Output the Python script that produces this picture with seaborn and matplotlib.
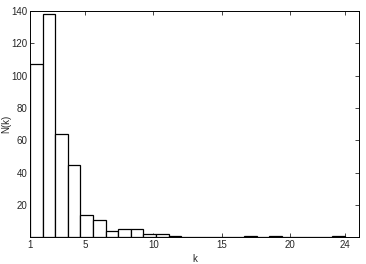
import numpy as np
import pandas as pd
import matplotlib
matplotlib.use("Agg")
import matplotlib.pyplot as plt
import seaborn as sns

# Histogram data: 25 bins spanning k = 1 .. 24
bin_lo = 1.0
bin_hi = 24.0
n_bins = 25
counts = [107, 138, 64, 45, 14, 11, 4, 5, 5, 2, 2, 1, 0, 0, 0, 0, 0, 1, 0, 1, 0, 0, 0, 0, 1]
x_ticks = [1, 5, 10, 15, 20, 24]
y_ticks = [20, 40, 60, 80, 100, 120, 140]

sns.set_style("ticks")
plt.rcParams['font.family'] = ['Liberation Sans', 'DejaVu Sans']

edges = np.linspace(bin_lo, bin_hi, n_bins + 1)
centers = (edges[:-1] + edges[1:]) / 2
df = pd.DataFrame({"k": centers, "n": counts})

fig = plt.figure(figsize=(3.66, 2.64), dpi=100)
ax = fig.add_axes([0.082, 0.101, 0.898, 0.857])
sns.histplot(data=df, x="k", weights="n", bins=list(edges), ax=ax,
             color="white", edgecolor="black", linewidth=0.9, alpha=1)

ax.set_xlim(1, 25)
ax.set_ylim(0, 140)
ax.set_xticks(x_ticks)
ax.set_yticks(y_ticks)
ax.tick_params(direction="in", length=3, width=0.6, labelsize=7, pad=2,
               top=True, right=True)
for s in ax.spines.values():
    s.set_visible(True)
    s.set_linewidth(0.7)
    s.set_color("black")
ax.set_xlabel("k", fontsize=7, labelpad=3)
ax.set_ylabel("N(k)", fontsize=7)
ax.yaxis.set_label_coords(-0.056, 0.5)

fig.savefig("out.png", dpi=100)
